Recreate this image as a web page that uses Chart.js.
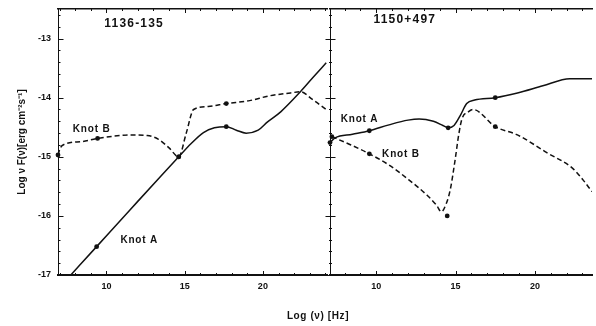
<!DOCTYPE html>
<html><head><meta charset="utf-8">
<script src="https://cdn.jsdelivr.net/npm/chart.js@4.4.0/dist/chart.umd.min.js"></script>
<style>
html,body{margin:0;padding:0;background:#fff;}
#wrap{position:relative;width:596px;height:326px;overflow:hidden;background:#fff;font-family:"Liberation Sans",Arial,sans-serif;}
canvas{position:absolute;top:0;}
#cL{left:0;}
#cR{left:320px;}
#xt{position:absolute;left:252px;width:132px;top:310px;text-align:center;font-weight:bold;font-size:10px;letter-spacing:0.6px;color:#111;}
</style></head><body>
<div id="wrap">
<canvas id="cL" width="331" height="326"></canvas>
<canvas id="cR" width="276" height="326"></canvas>
<div id="xt">Log (ν) [Hz]</div>
</div>
<script>
// ---- tick labels ----
const yTickValues = [-17, -16, -15, -14, -13];
const xTickValues = [10, 15, 20];

// ---- panel 1136-135 ----
const leftKnotA_x = [7.72, 9.37, 11.5, 13.5, 14.62, 15.4, 16.2, 16.9, 17.66, 18.3, 18.93, 19.7, 20.3, 21.14, 22.4, 23.2, 24.05];
const leftKnotA_y = [-17.0, -16.52, -15.9, -15.32, -15.0, -14.78, -14.59, -14.51, -14.49, -14.55, -14.6, -14.55, -14.41, -14.24, -13.9, -13.66, -13.41];
const leftKnotB_x = [6.9, 7.05, 7.3, 8.5, 9.43, 10.5, 11.6, 12.6, 13.3, 14.0, 14.62, 15.1, 15.57, 16.5, 17.66, 19.15, 20.4, 21.77, 22.4, 23.17, 24.05];
const leftKnotB_y = [-14.97, -14.85, -14.79, -14.74, -14.69, -14.65, -14.63, -14.64, -14.7, -14.85, -15.0, -14.6, -14.2, -14.15, -14.1, -14.05, -13.97, -13.92, -13.9, -14.03, -14.2];
const leftMarkA_x = [9.37, 14.62, 17.66];
const leftMarkA_y = [-16.52, -15.0, -14.49];
const leftMarkB_x = [6.9, 9.43, 14.62, 17.66];
const leftMarkB_y = [-14.97, -14.69, -15.0, -14.1];

// ---- panel 1150+497 ----
const rightKnotA_x = [7.08, 7.4, 8.5, 9.56, 10.8, 12.0, 12.7, 13.6, 14.2, 14.53, 14.9, 15.3, 15.7, 16.2, 17.5, 18.9, 20.5, 22.2, 23.6];
const rightKnotA_y = [-14.76, -14.68, -14.62, -14.56, -14.46, -14.38, -14.36, -14.4, -14.47, -14.51, -14.47, -14.3, -14.1, -14.04, -14.0, -13.92, -13.8, -13.68, -13.68];
const rightKnotB_x = [7.2, 8.4, 9.56, 10.8, 12.05, 13.2, 13.8, 14.1, 14.4, 14.66, 14.97, 15.2, 15.4, 15.8, 16.1, 17.5, 18.9, 20.75, 22.4, 23.0, 23.6];
const rightKnotB_y = [-14.66, -14.8, -14.95, -15.14, -15.39, -15.65, -15.82, -15.93, -15.8, -15.56, -15.05, -14.62, -14.36, -14.24, -14.2, -14.49, -14.63, -14.93, -15.2, -15.38, -15.59];
const rightMarkA_x = [7.08, 9.56, 14.53, 17.5];
const rightMarkA_y = [-14.76, -14.56, -14.51, -14.0];
const rightMarkB_x = [7.2, 9.56, 14.47, 17.5];
const rightMarkB_y = [-14.66, -14.95, -16.0, -14.49];

const INK = '#111';
const pts = (xs, ys) => xs.map((x, i) => ({x: x, y: ys[i]}));

const frameTicks = {
  id: 'frameTicks',
  afterDraw(chart, args, opts) {
    const {ctx, chartArea: a, scales} = chart;
    const xs = scales.x, ys = scales.y;
    ctx.save();
    ctx.strokeStyle = INK;
    ctx.lineWidth = 1;
    ctx.beginPath();
    const x0 = a.left + 0.5;
    for (let i = Math.ceil(ys.min * 5); i <= Math.floor(ys.max * 5); i++) {
      const major = (i % 5 === 0);
      const py = Math.round(ys.getPixelForValue(i / 5)) + 0.5;
      const L = major ? opts.major : opts.minor;
      const back = opts.cross ? L : 0;
      ctx.moveTo(x0 - back, py); ctx.lineTo(x0 + L, py);
    }
    for (let v = Math.ceil(xs.min); v <= Math.floor(xs.max); v++) {
      const px = Math.round(xs.getPixelForValue(v)) + 0.5;
      const L = (v % 5 === 0) ? 4 : 2;
      ctx.moveTo(px, a.bottom); ctx.lineTo(px, a.bottom - L);
      ctx.moveTo(px, a.top); ctx.lineTo(px, a.top + L);
    }
    ctx.stroke();
    ctx.restore();
  }
};

const textLabels = {
  id: 'textLabels',
  afterDatasetsDraw(chart, args, opts) {
    const {ctx, scales: {x, y}} = chart;
    ctx.save();
    ctx.fillStyle = INK;
    ctx.textAlign = 'center';
    ctx.textBaseline = 'middle';
    for (const t of opts.items) {
      ctx.font = t.font;
      ctx.letterSpacing = t.ls || '0px';
      ctx.fillText(t.text, x.getPixelForValue(t.x), y.getPixelForValue(t.y));
    }
    ctx.restore();
  }
};

const tickFont = {family: 'Liberation Sans', size: 9, weight: 'bold'};

function lineDs(data, dashed) {
  return {data: data, borderColor: INK, borderWidth: 1.5, borderDash: dashed ? [5, 3] : [],
          pointRadius: 0, fill: false, cubicInterpolationMode: 'monotone'};
}
function markDs(data, r) {
  return {data: data, showLine: false, pointRadius: r || 2.4, pointBackgroundColor: INK,
          pointBorderColor: INK, pointBorderWidth: 0, clip: 5};
}
function noPad(s) { s.paddingTop = 0; s.paddingBottom = 0; s.paddingLeft = 0; s.paddingRight = 0; }

function makeChart(canvasId, cfg) {
  return new Chart(document.getElementById(canvasId), {
    type: 'line',
    data: {datasets: cfg.datasets},
    plugins: [frameTicks, textLabels],
    options: {
      responsive: false, animation: false, devicePixelRatio: 1,
      layout: {padding: {top: 9, right: cfg.padRight, left: 0, bottom: 0}},
      plugins: {
        legend: {display: false}, tooltip: {enabled: false},
        frameTicks: cfg.ticks,
        textLabels: {items: cfg.labels}
      },
      scales: {
        x: {
          type: 'linear', position: 'bottom', min: cfg.xMin, max: cfg.xMax,
          afterBuildTicks: s => { s.ticks = xTickValues.map(v => ({value: v})); },
          afterFit: s => { s.height = 51; noPad(s); },
          grid: {display: false, drawTicks: false},
          border: {display: true, color: INK, width: 2},
          ticks: {font: tickFont, color: INK, padding: 6, maxRotation: 0, autoSkip: false}
        },
        xTop: {
          type: 'linear', position: 'top', min: cfg.xMin, max: cfg.xMax,
          afterFit: s => { s.height = 0; noPad(s); },
          grid: {display: false, drawTicks: false},
          border: {display: true, color: INK, width: 1.5},
          ticks: {display: false}
        },
        y: {
          type: 'linear', position: 'left', min: -17, max: -12.5,
          afterBuildTicks: s => { s.ticks = yTickValues.map(v => ({value: v})); },
          afterFit: s => { s.width = cfg.yWidth; noPad(s); },
          grid: {display: false, drawTicks: false},
          border: {display: true, color: INK, width: 1},
          ticks: {display: cfg.yLabels, font: tickFont, color: INK, padding: 7},
          title: {display: cfg.yLabels, text: 'Log ν F(ν)[erg cm⁻²s⁻¹]',
                  font: {family: 'Liberation Sans', size: 10, weight: 'bold'}, color: INK,
                  padding: {top: 16, bottom: 0}}
        }
      }
    }
  });
}

const labelFont = 'bold 10px "Liberation Sans"';
const titleFont = 'bold 12px "Liberation Sans"';

makeChart('cL', {
  xMin: 6.9, xMax: 24.1, padRight: 1, yWidth: 58, yLabels: true,
  ticks: {cross: false, major: 5, minor: 2},
  labels: [
    {text: '1136-135', x: 11.77, y: -12.75, font: titleFont, ls: '1.2px'},
    {text: 'Knot B', x: 9.05, y: -14.54, font: labelFont, ls: '0.8px'},
    {text: 'Knot A', x: 12.09, y: -16.42, font: labelFont, ls: '0.8px'}
  ],
  datasets: [
    lineDs(pts(leftKnotA_x, leftKnotA_y), false),
    lineDs(pts(leftKnotB_x, leftKnotB_y), true),
    markDs(pts(leftMarkA_x, leftMarkA_y)),
    markDs(pts(leftMarkB_x, leftMarkB_y))
  ]
});

makeChart('cR', {
  xMin: 7.08, xMax: 23.6, padRight: 0, yWidth: 10, yLabels: false,
  ticks: {cross: true, major: 5, minor: 1.5},
  labels: [
    {text: '1150+497', x: 11.8, y: -12.68, font: titleFont, ls: '1.2px'},
    {text: 'Knot A', x: 8.94, y: -14.37, font: labelFont, ls: '0.8px'},
    {text: 'Knot B', x: 11.55, y: -14.95, font: labelFont, ls: '0.8px'}
  ],
  datasets: [
    lineDs(pts(rightKnotA_x, rightKnotA_y), false),
    lineDs(pts(rightKnotB_x, rightKnotB_y), true),
    markDs(pts(rightMarkA_x, rightMarkA_y)),
    markDs(pts(rightMarkB_x, rightMarkB_y))
  ]
});
</script>
</body></html>
